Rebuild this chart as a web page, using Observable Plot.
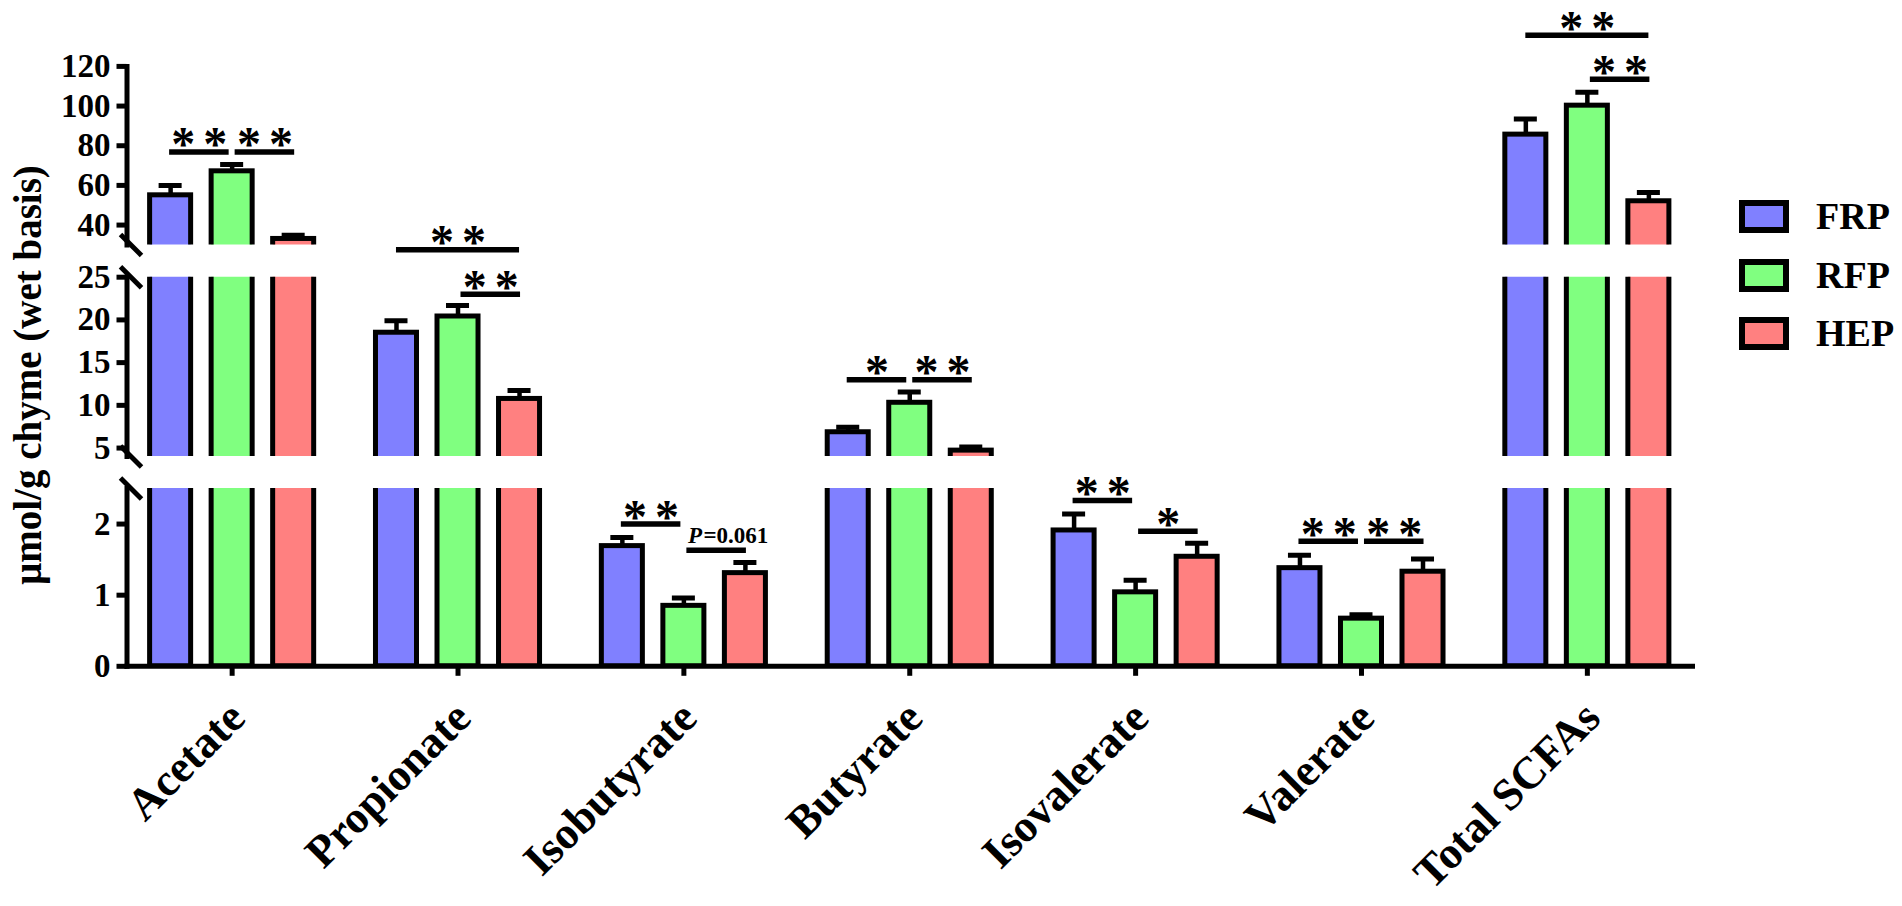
<!DOCTYPE html>
<html><head><meta charset="utf-8">
<script src="https://cdn.jsdelivr.net/npm/d3@7"></script>
<script src="https://cdn.jsdelivr.net/npm/@observablehq/plot@0.6"></script>
<style>
body{margin:0;background:#fff;}
#wrap{position:relative;width:1902px;height:906px;overflow:hidden;font-family:"Liberation Serif","Times New Roman",serif;font-weight:bold;color:#000;background:#fff;}
#wrap svg{position:absolute;left:0;}
#ytitle{position:absolute;left:27px;top:375px;transform:translate(-50%,-50%) rotate(-90deg);font-size:39px;white-space:nowrap;line-height:1;}
#legend{position:absolute;left:1739px;top:200px;}
.row{display:flex;align-items:center;height:33px;margin-bottom:25.5px;}
.sw{width:50px;height:33px;box-sizing:border-box;border:6px solid #000;}
.lab{margin-left:27px;font-size:38px;line-height:33px;}
</style></head><body><div id="wrap"></div>
<script>
// ---- data ----
const categories = ["Acetate","Propionate","Isobutyrate","Butyrate","Isovalerate","Valerate","Total SCFAs"];
const groups = ["FRP","RFP","HEP"];
const colors = ["#8080ff","#80ff80","#ff8080"];
const frp    = [55.0, 18.5, 1.69, 6.85, 1.91, 1.38, 85.6];
const frpErr = [5.0, 1.4, 0.12, 0.6, 0.23, 0.18, 7.9];
const rfp    = [67.1, 20.4, 0.85, 10.3, 1.04, 0.67, 100.2];
const rfpErr = [3.4, 1.3, 0.11, 1.25, 0.17, 0.055, 6.8];
const hep    = [33.0, 10.75, 1.31, 4.7, 1.54, 1.33, 52.0];
const hepErr = [1.9, 1.0, 0.15, 0.43, 0.19, 0.18, 4.4];
const ticksTop = [40, 60, 80, 100, 120];
const ticksMid = [5, 10, 15, 20, 25];
const ticksBot = [0, 1, 2];
const domainTop = [30, 120];
const domainMid = [4, 25];
const domainBot = [0, 2.5];
const sig = [
  {cat:"Acetate", from:"FRP", to:"RFP", label:"**", level:76.9, seg:"top", kind:"L"},
  {cat:"Acetate", from:"RFP", to:"HEP", label:"**", level:76.9, seg:"top", kind:"R"},
  {cat:"Propionate", from:"FRP", to:"HEP", label:"**", level:28.2, seg:"mid", kind:"W"},
  {cat:"Propionate", from:"RFP", to:"HEP", label:"**", level:23.0, seg:"mid", kind:"R"},
  {cat:"Isobutyrate", from:"FRP", to:"RFP", label:"**", level:2.0, seg:"bot", kind:"L"},
  {cat:"Isobutyrate", from:"RFP", to:"HEP", label:"P=0.061", level:1.63, seg:"bot", kind:"R"},
  {cat:"Butyrate", from:"FRP", to:"RFP", label:"*", level:13.0, seg:"mid", kind:"L"},
  {cat:"Butyrate", from:"RFP", to:"HEP", label:"**", level:13.0, seg:"mid", kind:"R"},
  {cat:"Isovalerate", from:"FRP", to:"RFP", label:"**", level:2.33, seg:"bot", kind:"L"},
  {cat:"Isovalerate", from:"RFP", to:"HEP", label:"*", level:1.90, seg:"bot", kind:"R"},
  {cat:"Valerate", from:"FRP", to:"RFP", label:"**", level:1.76, seg:"bot", kind:"L"},
  {cat:"Valerate", from:"RFP", to:"HEP", label:"**", level:1.76, seg:"bot", kind:"R"},
  {cat:"Total SCFAs", from:"FRP", to:"HEP", label:"**", level:135.7, seg:"top", kind:"W"},
  {cat:"Total SCFAs", from:"RFP", to:"HEP", label:"**", level:113.5, seg:"top", kind:"R"}
];

const vals = [frp, rfp, hep], errs = [frpErr, rfpErr, hepErr];
const table = categories.flatMap((c, i) => groups.map((g, j) => ({cat: c, group: g, value: vals[j][i], hi: vals[j][i] + errs[j][i]})));

// ---- layout ----
const segs = [
  {name:"top", domain:domainTop, ticks:ticksTop, breaks:["bottom-left"], top:0, height:262, mt:65.9, mb:17.6},
  {name:"mid", domain:domainMid, ticks:ticksMid, breaks:["top-left", "bottom-left"], top:200, height:277, mt:76.7, mb:20.9},
  {name:"bot", domain:domainBot, ticks:ticksBot, breaks:["top-left"], top:460, height:446, mt:28, mb:240.2}
];
const insets = {L:[22, 26], R:[26, 22], W:[23, 23]};
const mids = {L:28.75, R:32.75, W:61.5};
const slash = {draw(ctx, size) { const r = Math.sqrt(size / Math.PI); ctx.moveTo(-r, -r); ctx.lineTo(r, r); }};
const FONT = "'Liberation Serif','Times New Roman',serif";

function segPlot(s) {
  const sg = sig.filter(d => d.seg === s.name);
  const marks = [
    Plot.barY(table, {fx:"cat", x:"group", y:"value", fill:"group", stroke:"black", strokeWidth:5, insetLeft:2.5, insetRight:2.5, clip:true}),
    Plot.ruleX(table, {fx:"cat", x:"group", y1:"value", y2:"hi", stroke:"black", strokeWidth:4.5, clip:true}),
    Plot.tickY(table, {fx:"cat", x:"group", y:"hi", stroke:"black", strokeWidth:5, insetLeft:11.5, insetRight:11.5, clip:true}),
    Plot.frame({anchor:"left", facet:"super", stroke:"black", strokeWidth:5, strokeLinecap:"square"}),
    Plot.axisY({ticks:s.ticks, tickSize:10, tickPadding:6.5, fontSize:33, strokeWidth:5, label:null, tickFormat:d => String(d)})
  ];
  for (const a of s.breaks) {
    marks.push(Plot.dot([a], {x:null, y:null, frameAnchor:a, facet:"super", symbol:slash, r:10.5, stroke:"black", strokeWidth:5, fill:"none", dx:4}));
  }
  for (const k of ["L","R","W"]) {
    const rows = sg.filter(d => d.kind === k);
    marks.push(Plot.ruleY(rows, {fx:"cat", x1:"from", x2:"to", y:"level", stroke:"black", strokeWidth:5.5, insetLeft:insets[k][0], insetRight:insets[k][1]}));
    marks.push(Plot.text(rows.filter(d => d.label.startsWith("*")), {fx:"cat", x:"from", y:"level", text:d => d.label.split("").join("\u2006"), dx:mids[k], dy:8.5, lineAnchor:"bottom", textAnchor:"middle", fontSize:48, fontWeight:"bold"}));
  }
  const pRows = sg.filter(d => !d.label.startsWith("*"));
  marks.push(Plot.text(pRows, {fx:"cat", x:"from", y:"level", text:d => d.label.split("=")[0], dx:4, dy:-7.7, lineAnchor:"bottom", textAnchor:"start", fontSize:23, fontStyle:"italic", fontWeight:"bold"}));
  marks.push(Plot.text(pRows, {fx:"cat", x:"from", y:"level", text:d => "=" + d.label.split("=")[1], dx:19.5, dy:-7.7, lineAnchor:"bottom", textAnchor:"start", fontSize:23, fontWeight:"bold"}));
  if (s.name === "bot") {
    marks.push(Plot.frame({anchor:"bottom", facet:"super", stroke:"black", strokeWidth:5, strokeLinecap:"square"}));
    marks.push(Plot.axisFx({anchor:"bottom", tickSize:10, strokeWidth:5, tickFormat:() => "", label:null}));
    marks.push(Plot.axisFx({anchor:"bottom", tickSize:0, tickPadding:43.8, tickRotate:-45, textAnchor:"end", lineAnchor:"middle", fontSize:45, dx:5, label:null}));
  }
  const fxOpts = {domain:categories, paddingInner:0.069, paddingOuter:0, round:false, label:null};
  if (s.name !== "bot") fxOpts.axis = null;
  const svg = Plot.plot({
    width:1902, height:s.height, marginTop:s.mt, marginBottom:s.mb, marginLeft:126.5, marginRight:210,
    fx:fxOpts,
    x:{domain:groups, paddingInner:0.252, paddingOuter:0.335, round:false, axis:null},
    y:{domain:s.domain},
    color:{domain:groups, range:colors},
    style:{background:"transparent", overflow:"visible", fontFamily:FONT, fontWeight:"bold", color:"black"},
    marks
  });
  svg.style.top = s.top + "px";
  return svg;
}

const wrap = document.getElementById("wrap");
for (const s of segs) wrap.appendChild(segPlot(s));

const title = document.createElement("div");
title.id = "ytitle";
title.textContent = "μmol/g chyme (wet basis)";
wrap.appendChild(title);

const legend = document.createElement("div");
legend.id = "legend";
groups.forEach((g, i) => {
  const row = document.createElement("div"); row.className = "row";
  const sw = document.createElement("div"); sw.className = "sw"; sw.style.background = colors[i];
  const lab = document.createElement("span"); lab.className = "lab"; lab.textContent = g;
  row.appendChild(sw); row.appendChild(lab); legend.appendChild(row);
});
wrap.appendChild(legend);
</script></body></html>
